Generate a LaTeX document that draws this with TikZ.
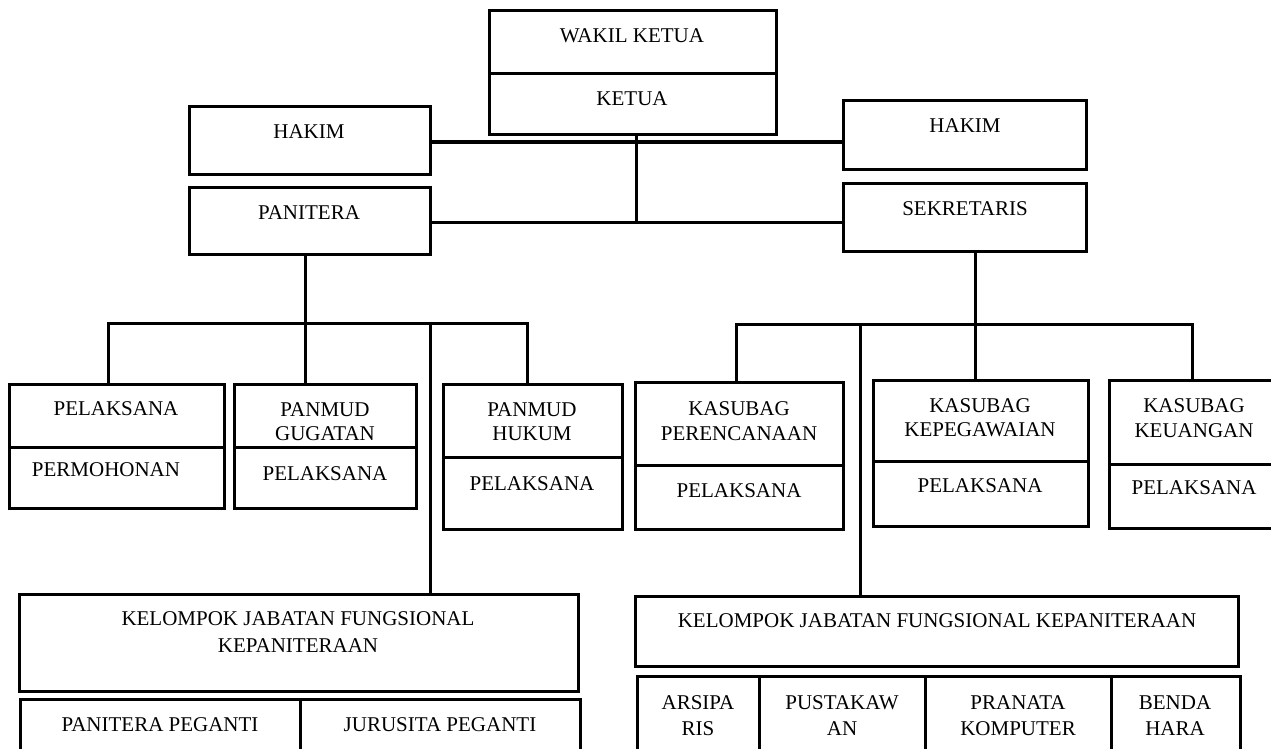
\documentclass[tikz,border=0pt]{standalone}
\usepackage{fontspec}
\setmainfont{Liberation Serif}
\tikzset{
  box/.style={draw=black, line width=3pt, rectangle, inner sep=0pt, outer sep=0pt},
  conn/.style={draw=black, line width=3pt, line join=miter},
  txt/.style={anchor=base, inner sep=0pt, outer sep=0pt, font=\fontsize{21}{24}\selectfont}
}
\newcommand\bx[5]{\node[box, minimum width={(#4)-(#2)}, minimum height={(#5)-(#3)}] (#1) at ({((#2)+(#4))/2},{((#3)+(#5))/2}) {};}
\newcommand\tx[4]{\node[txt] (#1) at (#2,{(#3)+7}) {#4};}
\begin{document}
\begin{tikzpicture}[x=1pt,y=-1pt]
\clip (0,0) rectangle (1271,749);
\fill[white] (0,0) rectangle (1271,749);
% top
\bx{wakil}{489}{11}{776}{74}
\bx{ketua}{489}{74}{776}{135}
\bx{hakimL}{189}{107}{430}{174}
\bx{hakimR}{843}{101}{1086}{169}
\bx{panitera}{189}{187}{430}{254}
\bx{sekretaris}{843}{183}{1086}{251}
% left middle
\bx{pelA}{9}{384}{224}{447}
\bx{permohonan}{9}{447}{224}{508}
\bx{gugatan}{234}{384}{416}{447}
\bx{gugatanP}{234}{447}{416}{508}
\bx{hukum}{443}{384}{622}{457}
\bx{hukumP}{443}{457}{622}{529}
% right middle
\bx{perenc}{635}{382}{843}{465}
\bx{perencP}{635}{465}{843}{529}
\bx{kepeg}{873}{380}{1088}{461}
\bx{kepegP}{873}{461}{1088}{526}
\bx{keuang}{1109}{380}{1272}{464}
\bx{keuangP}{1109}{464}{1272}{528}
% bottom
\bx{kjfL}{19}{594}{578}{691}
\bx{ppL}{20}{699}{300}{762}
\bx{jpL}{300}{699}{580}{762}
\bx{kjfR}{635}{596}{1238}{666}
\bx{arsip}{637}{676}{759}{762}
\bx{pustaka}{759}{676}{925}{762}
\bx{pranata}{925}{676}{1111}{762}
\bx{benda}{1111}{676}{1240}{762}
% texts
\tx{t1}{632}{36}{WAKIL KETUA}
\tx{t2}{632}{99}{KETUA}
\tx{t3}{309}{132}{HAKIM}
\tx{t4}{309}{212}{PANITERA}
\tx{t5}{965}{125}{HAKIM}
\tx{t6}{965}{208}{SEKRETARIS}
\tx{t7}{116}{408}{PELAKSANA}
\tx{t8}{106}{469}{PERMOHONAN}
\tx{t9}{325}{409}{PANMUD}
\tx{t10}{325}{433}{GUGATAN}
\tx{t11}{325}{473}{PELAKSANA}
\tx{t12}{532}{409}{PANMUD}
\tx{t13}{532}{433}{HUKUM}
\tx{t14}{532}{483}{PELAKSANA}
\tx{t15}{739}{408}{KASUBAG}
\tx{t16}{739}{433}{PERENCANAAN}
\tx{t17}{739}{490}{PELAKSANA}
\tx{t18}{980}{405}{KASUBAG}
\tx{t19}{980}{429}{KEPEGAWAIAN}
\tx{t20}{980}{485}{PELAKSANA}
\tx{t21}{1194}{405}{KASUBAG}
\tx{t22}{1194}{430}{KEUANGAN}
\tx{t23}{1194}{487}{PELAKSANA}
\tx{t24}{298}{618}{KELOMPOK JABATAN FUNGSIONAL}
\tx{t25}{298}{645}{KEPANITERAAN}
\tx{t26}{160}{724}{PANITERA PEGANTI}
\tx{t27}{440}{724}{JURUSITA PEGANTI}
\tx{t28}{937}{620}{KELOMPOK JABATAN FUNGSIONAL KEPANITERAAN}
\tx{t29}{698}{702}{ARSIPA}
\tx{t30}{698}{728}{RIS}
\tx{t31}{842}{702}{PUSTAKAW}
\tx{t32}{842}{728}{AN}
\tx{t33}{1018}{702}{PRANATA}
\tx{t34}{1018}{728}{KOMPUTER}
\tx{t35}{1175}{702}{BENDA}
\tx{t36}{1175}{728}{HARA}
% connectors top
\coordinate (topj) at (636,222);
\draw[conn] (ketua.south -| topj) -- (topj);
\draw[conn] (hakimL.east |- 0,142) -- (hakimR.west |- 0,142);
\draw[conn] (panitera.east |- topj) -- (sekretaris.west |- topj);
% left tree
\coordinate (lbus) at (305,323);
\draw[conn] (pelA.north -| 108,0) -- (108,323) -- (527,323) -- (hukum.north -| 527,0);
\draw[conn] (panitera.south -| lbus) -- (lbus) -- (gugatan.north -| lbus);
\draw[conn] (430,323) -- (kjfL.north -| 430,0);
% right tree
\coordinate (rbus) at (975,324);
\draw[conn] (perenc.north -| 736,0) -- (736,324) -- (1192,324) -- (keuang.north -| 1192,0);
\draw[conn] (sekretaris.south -| rbus) -- (rbus) -- (kepeg.north -| rbus);
\draw[conn] (860,324) -- (kjfR.north -| 860,0);
\end{tikzpicture}
\end{document}
